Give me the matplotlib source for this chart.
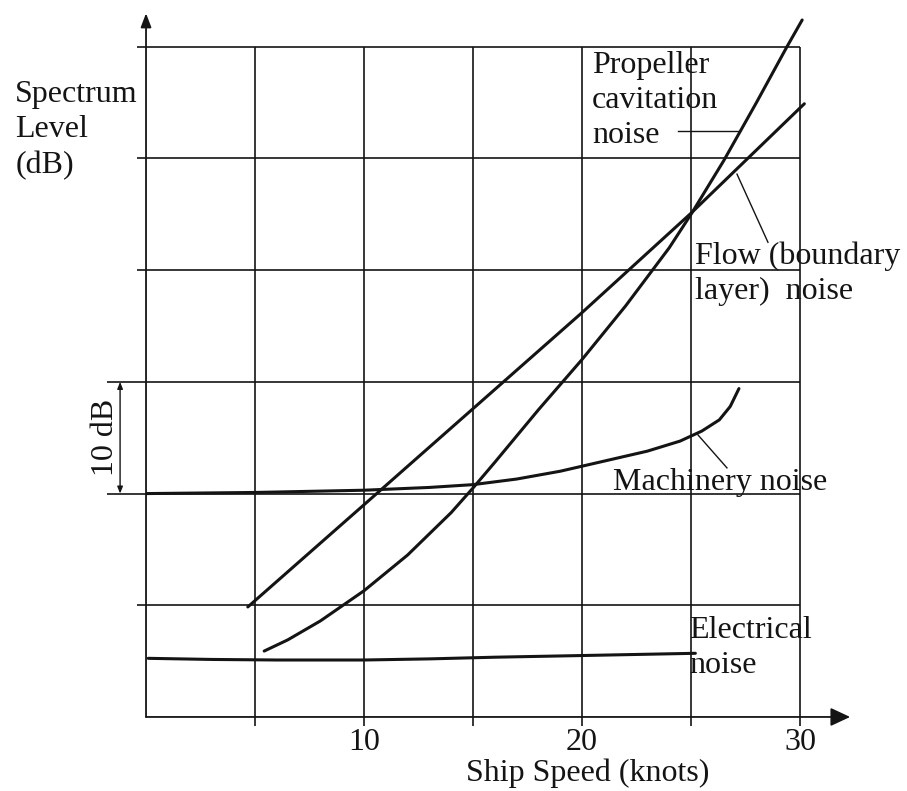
#!/usr/bin/env python3
"""Ship radiated noise components versus ship speed (schematic spectrum levels)."""

import matplotlib

matplotlib.use("Agg")
import matplotlib.pyplot as plt

plt.rcParams["font.family"] = ["Liberation Serif", "DejaVu Serif"]

# ---- Curve data (knots, dB above the plot floor) ---------------------------

ELEC_KN = [0.1, 3, 6, 10, 13, 16, 20, 25.2]
ELEC_DB = [5.25, 5.15, 5.1, 5.1, 5.2, 5.35, 5.5, 5.7]

MACH_KN = [0, 5, 10, 13, 15, 17, 19, 21, 23, 24.5, 25.5, 26.3, 26.8, 27.2]
MACH_DB = [20.0, 20.1, 20.3, 20.55, 20.8, 21.3, 22.0, 22.9, 23.8, 24.7, 25.6, 26.6, 27.8, 29.4]

FLOW_KN = [4.67, 10, 15, 20, 25, 30.2]
FLOW_DB = [9.85, 19.0, 27.6, 36.2, 45.1, 54.9]

PROP_KN = [5.42, 6.5, 8, 10, 12, 14, 15, 16, 18, 20, 22, 24, 25, 26.5, 28, 29.4, 30.1]
PROP_DB = [5.9, 6.9, 8.6, 11.3, 14.5, 18.3, 20.5, 22.8, 27.5, 32.0, 36.8, 42.0, 45.0,
           49.8, 55.0, 60.0, 62.4]

X_GRID = [5, 10, 15, 20, 25, 30]
X_LABELS = ["", "10", "", "20", "", "30"]
Y_GRID = [10, 20, 30, 40, 50, 60]

X_MAX, Y_MAX = 32.3, 63.0
INK = "#141414"
FS = 23


def draw_chart() -> None:
    fig = plt.figure(figsize=(9.07, 7.91), dpi=100)
    ax = fig.add_axes([0.161, 0.0936, 0.7763, 0.8896])
    ax.set_xlim(0, X_MAX)
    ax.set_ylim(0, Y_MAX)
    for sp in ax.spines.values():
        sp.set_visible(False)

    # grid: horizontal levels poke slightly left of the axis, the 10 dB span further
    for lvl in Y_GRID:
        x0 = -1.79 if lvl in (20, 30) else -0.41
        ax.hlines(lvl, x0, 30, color=INK, lw=1.2, clip_on=False)
    ax.vlines(X_GRID, 0, 60, color=INK, lw=1.2)

    ax.set_yticks([])
    ax.set_xticks(X_GRID, X_LABELS)
    ax.tick_params(axis="x", direction="out", length=6.5, width=1.2,
                   color=INK, pad=1.5, labelsize=FS, labelcolor=INK)

    # axes with arrow heads
    ax.annotate("", xy=(X_MAX, 0), xytext=(0, 0),
                arrowprops=dict(arrowstyle="-|>,head_length=0.6,head_width=0.28",
                                color=INK, lw=1.3, shrinkA=0, shrinkB=0,
                                mutation_scale=20),
                annotation_clip=False)
    ax.annotate("", xy=(0, Y_MAX), xytext=(0, 0),
                arrowprops=dict(arrowstyle="-|>,head_length=0.42,head_width=0.16",
                                color=INK, lw=1.3, shrinkA=0, shrinkB=0,
                                mutation_scale=20),
                annotation_clip=False)

    # noise curves
    for kn, db in ((ELEC_KN, ELEC_DB), (MACH_KN, MACH_DB),
                   (FLOW_KN, FLOW_DB), (PROP_KN, PROP_DB)):
        ax.plot(kn, db, color=INK, lw=2.2, solid_capstyle="round",
                solid_joinstyle="round")

    # 10 dB scale bracket
    ax.annotate("", xy=(-1.19, 30), xytext=(-1.19, 20),
                arrowprops=dict(arrowstyle="<|-|>,head_length=0.5,head_width=0.2",
                                color=INK, lw=1.0, shrinkA=0, shrinkB=0,
                                mutation_scale=8),
                annotation_clip=False)
    ax.text(-1.85, 25, "10 dB", rotation=90, ha="center", va="center",
            fontsize=FS, color=INK)

    # leader lines from labels to curves
    ax.plot([24.4, 27.14], [52.46, 52.46], color=INK, lw=1.0)
    ax.plot([27.11, 28.53], [48.6, 42.5], color=INK, lw=1.0)
    ax.plot([25.32, 26.65], [25.25, 22.3], color=INK, lw=1.0)

    # labels
    ax.text(20.46, 55.2, "Propeller\ncavitation\nnoise", ha="left", va="center",
            fontsize=FS, color=INK, linespacing=1.28)
    ax.text(25.18, 39.7, "Flow (boundary\nlayer)  noise", ha="left", va="center",
            fontsize=FS, color=INK, linespacing=1.28)
    ax.text(21.42, 20.3, "Machinery noise", ha="left", va="baseline",
            fontsize=FS, color=INK)
    ax.text(24.9, 6.2, "Electrical\nnoise", ha="left", va="center",
            fontsize=FS, color=INK, linespacing=1.28)
    ax.text(-6.0, 52.55, "Spectrum\nLevel\n(dB)", ha="left", va="center",
            fontsize=FS, color=INK, linespacing=1.28)
    ax.text(20.28, -5.0, "Ship Speed (knots)", ha="center", va="center",
            fontsize=FS, color=INK)

    fig.savefig("out.png", dpi=100, facecolor="white")


if __name__ == "__main__":
    draw_chart()
